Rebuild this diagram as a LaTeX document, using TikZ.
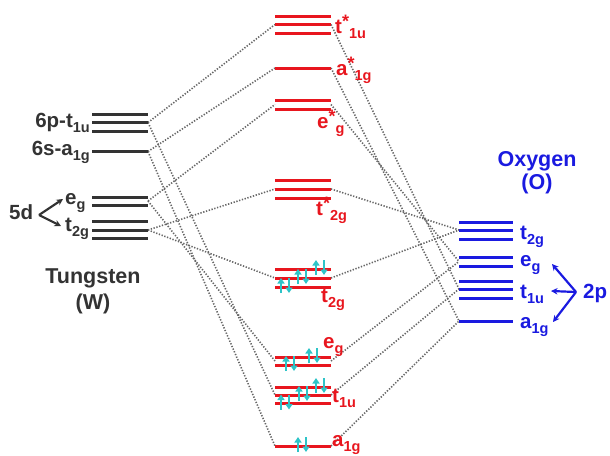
\documentclass[tikz,border=0pt]{standalone}
\usepackage{fontspec}
\setmainfont{Liberation Sans}
\usetikzlibrary{arrows.meta}
\definecolor{wcol}{HTML}{333333}
\definecolor{mred}{HTML}{E8161E}
\definecolor{oblue}{HTML}{1A1AE0}
\definecolor{ecyan}{HTML}{2EC4C8}
\definecolor{dotgray}{HTML}{666666}
\newcommand{\sbx}[1]{\raisebox{-0.55ex}{\fontsize{14.5}{14.5}\selectfont #1}}
\newcommand{\stx}{\raisebox{0.5ex}{\fontsize{18}{18}\selectfont *}}
\newcommand{\epair}[2]{%
  \draw[earrow] ({#1-4},{#2+6}) -- ({#1-4},{#2-9});
  \draw[earrow] ({#1+4},{#2-9}) -- ({#1+4},{#2+6});}
\begin{document}
\begin{tikzpicture}[x=1pt,y=-1pt,
  lev/.style={line width=3pt},
  wlev/.style={lev,draw=wcol},
  rlev/.style={lev,draw=mred},
  blev/.style={lev,draw=oblue},
  conn/.style={draw=dotgray,line width=1.6pt,dash pattern=on 1.3pt off 1.6pt},
  lab/.style={inner sep=0pt,font=\bfseries\fontsize{20.5}{23}\selectfont},
  big/.style={font=\bfseries\fontsize{21.5}{23}\selectfont},
  wlab/.style={lab,text=wcol},
  rlab/.style={lab,text=mred},
  blab/.style={lab,text=oblue},
  earrow/.style={draw=ecyan,line width=2.2pt,-{Triangle[length=5.5pt,width=7pt]}},
  warrow/.style={draw=wcol,line width=2.2pt,-{Stealth[length=6.5pt,width=6.5pt]}},
  barrow/.style={draw=oblue,line width=2.2pt,-{Stealth[length=6.5pt,width=6.5pt]}}]
\useasboundingbox (0,0) rectangle (610,455);

% ---------- connection points ----------
\coordinate (W6p) at (148,122.5);
\coordinate (W6s) at (148,151.5);
\coordinate (Weg) at (148,201);
\coordinate (Wt2g) at (148,230);

\coordinate (Lt1us) at (275,24.5);  \coordinate (Rt1us) at (331,24.5);
\coordinate (La1gs) at (275,68);    \coordinate (Ra1gs) at (331,68);
\coordinate (Legs) at (275,104.5);  \coordinate (Regs) at (331,104.5);
\coordinate (Lt2gs) at (275,189);   \coordinate (Rt2gs) at (331,189);
\coordinate (Lt2g) at (275,278);    \coordinate (Rt2g) at (331,278);
\coordinate (Leg) at (275,361);     \coordinate (Reg) at (331,361);
\coordinate (Lt1u) at (275,395);    \coordinate (Rt1u) at (331,395);
\coordinate (La1g) at (275,446);    \coordinate (Ra1g) at (331,446);

\coordinate (Ot2g) at (459,230);
\coordinate (Oeg) at (459,261.5);
\coordinate (Ot1u) at (459,289);
\coordinate (Oa1g) at (459,321);

% ---------- dotted correlation lines ----------
\draw[conn] (W6p) -- (Lt1us);
\draw[conn] (W6p) -- (Lt1u);
\draw[conn] (W6s) -- (La1gs);
\draw[conn] (W6s) -- (La1g);
\draw[conn] (Weg) -- (Legs);
\draw[conn] (Weg) -- (Leg);
\draw[conn] (Wt2g) -- (Lt2gs);
\draw[conn] (Wt2g) -- (Lt2g);

\draw[conn] (Rt1us) -- (Ot1u);
\draw[conn] (Ra1gs) -- (Oa1g);
\draw[conn] (Regs) -- (Oeg);
\draw[conn] (Rt2gs) -- (Ot2g);
\draw[conn] (Rt2g) -- (Ot2g);
\draw[conn] (Reg) -- (Oeg);
\draw[conn] (Rt1u) -- (Ot1u);
\draw[conn] (Ra1g) -- (Oa1g);

% ---------- tungsten levels ----------
\foreach \y in {114,122.5,131} \draw[wlev] (92,\y) -- (148,\y);
\draw[wlev] (92,151.5) -- (148,151.5);
\foreach \y in {197,205} \draw[wlev] (92,\y) -- (148,\y);
\foreach \y in {221.5,230,238.5} \draw[wlev] (92,\y) -- (148,\y);

% ---------- molecular orbitals ----------
\foreach \y in {16,24.5,33} \draw[rlev] (275,\y) -- (331,\y);
\draw[rlev] (275,68) -- (331,68);
\foreach \y in {100,109} \draw[rlev] (275,\y) -- (331,\y);
\foreach \y in {180,189,198} \draw[rlev] (275,\y) -- (331,\y);
\foreach \y in {269,278,287} \draw[rlev] (275,\y) -- (331,\y);
\foreach \y in {357,365} \draw[rlev] (275,\y) -- (331,\y);
\foreach \y in {387,395,403.5} \draw[rlev] (275,\y) -- (331,\y);
\draw[rlev] (275,446) -- (331,446);

% ---------- oxygen levels ----------
\foreach \y in {222,230,239} \draw[blev] (459,\y) -- (513,\y);
\foreach \y in {257,266} \draw[blev] (459,\y) -- (513,\y);
\foreach \y in {281,289,298} \draw[blev] (459,\y) -- (513,\y);
\draw[blev] (459,321) -- (513,321);

% ---------- electrons ----------
\epair{285}{287}
\epair{302}{278}
\epair{320}{269}
\epair{290}{365}
\epair{313}{357}
\epair{285}{403.5}
\epair{303}{395}
\epair{320}{387}
\epair{302}{446}

% ---------- tungsten labels ----------
\node[wlab,anchor=base east] (l6p) at (90,127) {6p-t\sbx{1u}};
\node[wlab,anchor=base east] (l6s) at (90,155) {6s-a\sbx{1g}};
\node[wlab,anchor=base west] (l5d) at (9,219) {5d};
\node[wlab,anchor=base west] (lweg) at (65,204) {e\sbx{g}};
\node[wlab,anchor=base west] (lwt2g) at (65,231) {t\sbx{2g}};
\coordinate (d5v) at (39,215);
\coordinate (d5e) at (63,199);
\coordinate (d5t) at (61,226);
\draw[warrow] (d5v) -- (d5e);
\draw[warrow] (d5v) -- (d5t);
\node[wlab,big,anchor=base] (tung) at (93,283) {Tungsten};
\node[wlab,big,anchor=base] (wsym) at (93,309) {(W)};

% ---------- MO labels ----------
\node[rlab,anchor=base west] (mt1us) at (335,33) {t\stx\sbx{1u}};
\node[rlab,anchor=base west] (ma1gs) at (336,75) {a\stx\sbx{1g}};
\node[rlab,anchor=base west] (megs) at (317,128) {e\stx\sbx{g}};
\node[rlab,anchor=base west] (mt2gs) at (316,215) {t\stx\sbx{2g}};
\node[rlab,anchor=base west] (mt2g) at (321,302) {t\sbx{2g}};
\node[rlab,anchor=base west] (meg) at (323,348) {e\sbx{g}};
\node[rlab,anchor=base west] (mt1u) at (332,402) {t\sbx{1u}};
\node[rlab,anchor=base west] (ma1g) at (332,446) {a\sbx{1g}};

% ---------- oxygen labels ----------
\node[blab,big,anchor=base] (oxy) at (537,166) {Oxygen};
\node[blab,big,anchor=base] (osym) at (537,189) {(O)};
\node[blab,anchor=base west] (lot2g) at (520,239) {t\sbx{2g}};
\node[blab,anchor=base west] (loeg) at (520,266) {e\sbx{g}};
\node[blab,anchor=base west] (lot1u) at (520,298) {t\sbx{1u}};
\node[blab,anchor=base west] (loa1g) at (520,328) {a\sbx{1g}};
\node[blab,anchor=base west] (l2p) at (583,298) {2p};
\coordinate (p2v) at (576,292);
\coordinate (p2e) at (552,264);
\coordinate (p2t) at (551,291);
\coordinate (p2a) at (553,322);
\draw[barrow] (p2v) -- (p2e);
\draw[barrow] (p2v) -- (p2t);
\draw[barrow] (p2v) -- (p2a);
\end{tikzpicture}
\end{document}
